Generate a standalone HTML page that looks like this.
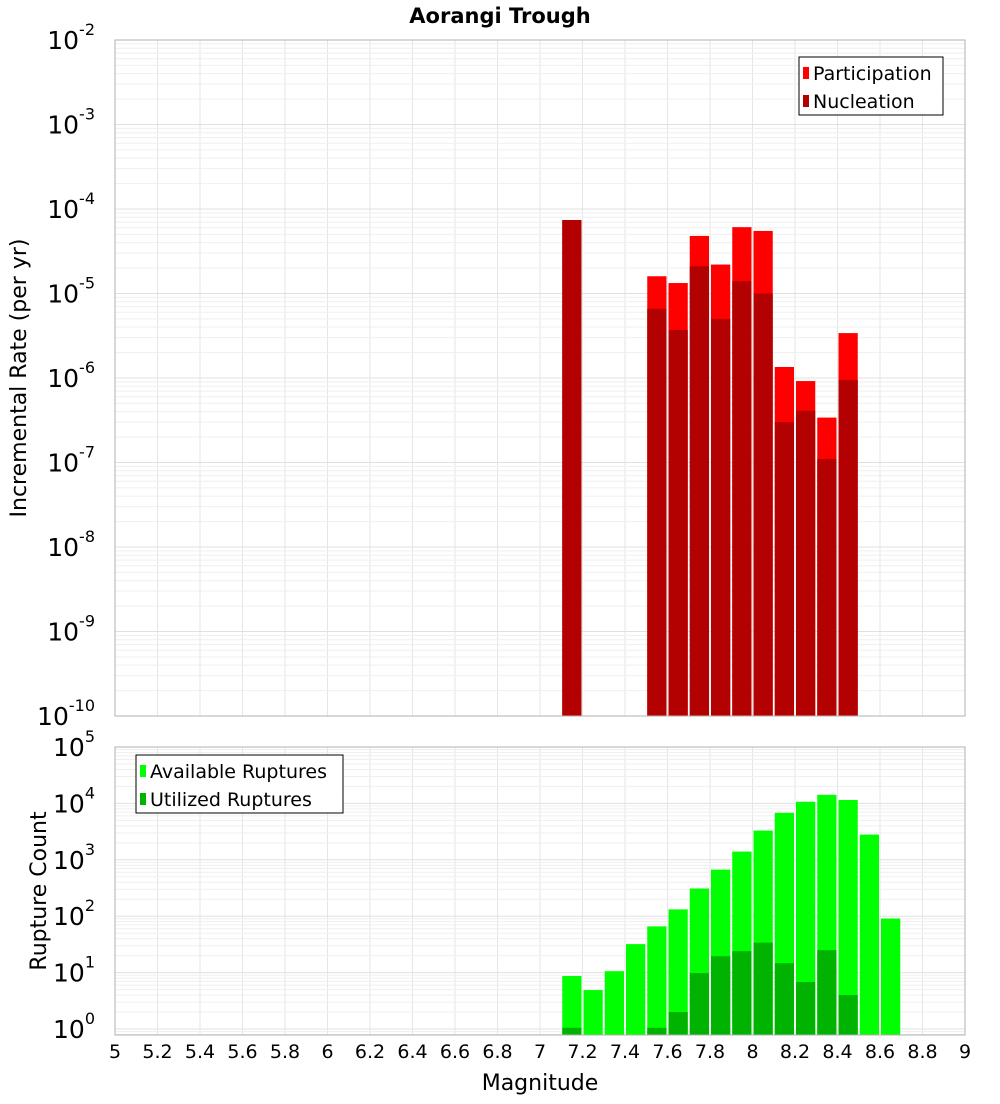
<!DOCTYPE html>
<html><head><meta charset="utf-8"><style>
body{margin:0;background:#fff;font-family:"DejaVu Sans","Liberation Sans",sans-serif}
svg text{font-family:"DejaVu Sans","Liberation Sans",sans-serif}
</style></head><body>
<svg id="c" width="1000" height="1100" xmlns="http://www.w3.org/2000/svg">
<text x="500" y="23" text-anchor="middle" font-size="21" font-weight="bold">Aorangi Trough</text>
<text transform="translate(26,378) rotate(-90)" text-anchor="middle" font-size="22">Incremental Rate (per yr)</text>
<text transform="translate(46,891) rotate(-90)" text-anchor="middle" font-size="22">Rupture Count</text>
<text x="540" y="1090" text-anchor="middle" font-size="22">Magnitude</text>
</svg>
<script>
const mags=[7.1,7.2,7.3,7.4,7.5,7.6,7.7,7.8,7.9,8.0,8.1,8.2,8.3,8.4,8.5,8.6];
const participation=[7.4e-5,0,0,0,1.6e-5,1.33e-5,4.8e-5,2.2e-5,6.1e-5,5.5e-5,1.35e-6,9.2e-7,3.4e-7,3.4e-6,0,0];
const nucleation=[7.4e-5,0,0,0,6.6e-6,3.7e-6,2.1e-5,5.0e-6,1.4e-5,1.0e-5,3.0e-7,4.1e-7,1.1e-7,9.5e-7,0,0];
const available=[8.7,4.9,10.6,32,66,132,310,670,1400,3300,6800,10700,14200,11500,2800,91];
const utilized=[1.05,0,0,0,1.05,2,9.8,19.5,24,34,14.7,6.8,25,4,0,0];
const xTicks=[5,5.2,5.4,5.6,5.8,6,6.2,6.4,6.6,6.8,7,7.2,7.4,7.6,7.8,8,8.2,8.4,8.6,8.8,9];
const topExp=[-2,-3,-4,-5,-6,-7,-8,-9,-10];
const botExp=[5,4,3,2,1,0];

const svg=document.getElementById('c');
const NS='http://www.w3.org/2000/svg';
const X0=115,X1=965;
const xs=m=>X0+(m-5)/4*(X1-X0);
const T0=40,T1=716,B0=747,B1=1035;
const yTop=v=>T0+(-2-Math.log10(v))*((T1-T0)/8);
const bdec=(1029-B0)/5;
const yBot=v=>B0+(5-Math.log10(v))*bdec;
function el(t,a,p){const e=document.createElementNS(NS,t);for(const k in a)e.setAttribute(k,a[k]);(p||svg).appendChild(e);return e;}

function frame(y0,y1,name){
  const g=el('g',{});
  
  
  el('rect',{x:X0,y:y0,width:X1-X0,height:y1-y0,fill:'#fff'},g);
  xTicks.forEach(t=>{const l=el('line',{x1:xs(t),x2:xs(t),y1:y0,y2:y1,stroke:'#e6e6e6'},g);});
  return g;
}
const gt=frame(T0,T1,'top-plot-area');
for(let d=-10;d<-2;d++)for(let k=1;k<10;k++){const y=yTop(k*Math.pow(10,d));el('line',{x1:X0,x2:X1,y1:y,y2:y,stroke:k==1?'#e0e0e0':'#efefef'},gt);}
const gb=frame(B0,B1,'bottom-plot-area');
for(let d=-1;d<5;d++)for(let k=1;k<10;k++){const y=yBot(k*Math.pow(10,d));if(y<B0||y>B1)continue;el('line',{x1:X0,x2:X1,y1:y,y2:y,stroke:k==1?'#e0e0e0':'#efefef'},gb);}

const bw=(X1-X0)/40;
function bar(m,v,yf,bottom,col,name){
  if(!v)return;
  const y=Math.max(yf(v),0);
  const r=el('rect',{x:xs(m)+1,y:y,width:bw-2,height:bottom-y,fill:col});
  
  
}
mags.forEach((m,i)=>{
  bar(m,participation[i],yTop,T1,'#ff0000','participation-bar');
  bar(m,nucleation[i],yTop,T1,'#b30000','nucleation-bar');
  bar(m,available[i],yBot,B1,'#00ff00','available-ruptures-bar');
  bar(m,utilized[i],yBot,B1,'#00b300','utilized-ruptures-bar');
});
el('rect',{x:X0,y:T0,width:X1-X0,height:T1-T0,fill:'none',stroke:'#b0b0b0'});
el('rect',{x:X0,y:B0,width:X1-X0,height:B1-B0,fill:'none',stroke:'#b0b0b0'});

function pow(x,y,e,name){
  const t=el('text',{x:x,y:y,'text-anchor':'end','font-size':25});
  
  
  t.textContent='10';
  const s=el('tspan',{dy:-14,'font-size':16});
  s.textContent=String(e);t.appendChild(s);
}
topExp.forEach(e=>pow(95,yTop(Math.pow(10,e))+9,e,'top-y-tick-label'));
botExp.forEach(e=>pow(95,yBot(Math.pow(10,e))+9,e,'bottom-y-tick-label'));
xTicks.forEach(t=>{
  const tx=el('text',{x:xs(t),y:1058,'text-anchor':'middle','font-size':19});
  
  
  tx.textContent=String(t);
});

function legend(x,y,w,items,name){
  const g=el('g',{});
  
  
  el('rect',{x:x,y:y,width:w,height:58,fill:'#fff',stroke:'#000'},g);
  items.forEach((it,i)=>{
    el('rect',{x:x+4,y:y+10+i*28,width:6,height:12,fill:it[1]},g);
    const t=el('text',{x:x+14,y:y+23+i*28,'font-size':19},g);
    t.textContent=it[0];
  });
}
legend(799,57,144,[['Participation','#ff0000'],['Nucleation','#b30000']],'top-legend');
legend(136,755,207,[['Available Ruptures','#00ff00'],['Utilized Ruptures','#00b300']],'bottom-legend');
</script>
</body></html>
